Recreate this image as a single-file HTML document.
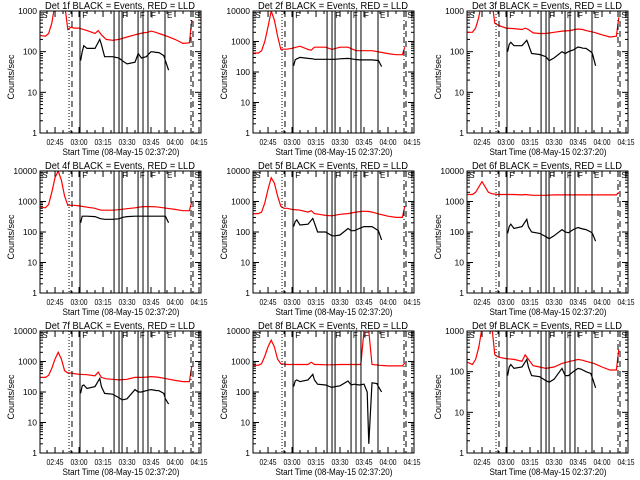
<!DOCTYPE html>
<html><head><meta charset="utf-8"><style>
html,body{margin:0;padding:0;background:#fff;}
svg{display:block;font-family:"Liberation Sans",sans-serif;}
</style></head><body>
<svg id="chart" width="640" height="480" viewBox="0 0 640 480" xmlns="http://www.w3.org/2000/svg"></svg>
<script>
const detNames = ["1f","2f","3f","4f","5f","6f","7f","8f","9f"];
const yMaxDecades = [3,4,3,4,4,4,4,4,3];
const tRed = [-9,-6,-4,-2,0,2,4,6,8,10,12,15,20,25,27,29,32,36,40,45,50,55,58,60,63,65,70,75,80,84,85.5];
const tBlack = [16,17,18,20,25,28,29,31,36,40,42,45,50,52,54,57,60,62,63,65,68,69,71];
const red1 = [250,240,280,500,1500,3000,3000,1500,350,400,380,380,330,280,330,260,200,190,200,230,260,290,300,320,300,280,240,200,160,165,600];
const red2 = [420,420,500,1000,3000,10000,5000,1500,550,560,560,600,700,550,520,650,650,650,550,650,650,500,500,500,500,500,450,400,370,370,650];
const red3 = [300,300,380,700,2000,3000,3000,2000,500,450,420,380,370,350,380,350,290,280,280,300,320,330,350,360,350,330,300,260,230,240,700];
const red4 = [650,620,800,2000,6000,10000,5000,1500,750,750,750,720,650,600,550,520,520,520,540,580,620,680,680,680,670,650,600,550,500,500,1000];
const red5 = [400,400,450,900,2500,6000,4000,1500,700,600,600,550,520,450,500,400,380,350,340,380,400,450,470,480,470,450,380,330,300,300,700];
const red6 = [1700,1700,2000,3000,4500,3000,2000,1800,1750,1700,1700,1700,1700,1650,1700,1650,1600,1600,1600,1650,1650,1650,1650,1650,1650,1650,1650,1650,1650,1650,2000];
const red7 = [300,300,350,600,1200,2000,1200,500,420,420,400,380,370,340,450,300,270,260,250,260,300,300,310,320,310,300,270,240,220,220,700];
const red8 = [750,750,850,1500,3000,5000,3000,1200,850,820,800,800,800,800,950,800,800,780,780,800,800,800,800,10000,10000,800,750,720,720,720,900];
const red9 = [170,150,200,400,1200,3000,3000,1500,260,230,220,210,200,180,260,200,140,130,120,130,160,180,190,200,190,180,160,130,110,110,350];
const blk1 = [60,100,140,120,120,200,150,75,75,70,60,50,55,90,70,75,100,98,96,95,80,60,35];
const blk2 = [160,250,270,300,280,270,260,260,260,260,260,270,280,270,260,250,250,250,250,250,240,240,150];
const blk3 = [100,150,170,140,140,190,150,90,85,75,60,70,100,90,100,110,130,125,122,120,100,90,45];
const blk4 = [200,330,330,330,320,280,270,260,260,270,300,320,330,330,330,330,330,330,330,330,330,330,200];
const blk5 = [150,220,250,170,180,280,200,100,100,75,75,80,130,110,110,130,150,150,150,150,120,110,55];
const blk6 = [90,150,180,130,150,260,150,100,90,70,60,75,120,100,95,120,140,130,125,120,100,90,50];
const blk7 = [90,160,170,130,150,280,150,90,85,65,55,60,120,100,100,110,120,115,112,110,90,60,40];
const blk8 = [150,230,250,220,250,380,250,180,170,140,150,160,230,170,180,170,180,100,2,200,190,150,100];
const blk9 = [80,130,150,120,130,200,130,80,75,60,55,65,120,80,80,100,120,115,110,100,90,70,40];
const redSeries = [red1,red2,red3,red4,red5,red6,red7,red8,red9];
const blackSeries = [blk1,blk2,blk3,blk4,blk5,blk6,blk7,blk8,blk9];
const xTickMinutes = [0,15,30,45,60,75,90];
const xTickLabels = ["02:45","03:00","03:15","03:30","03:45","04:00","04:15"];
const markerTimes = [8.75,10.6,15.6,36.9,40,41.9,51.9,55,58.1,68.75,85,86.25];
const markerStyles = ["dot","dash","solid","solid","solid","solid","solid","solid","solid","solid","dashdot","dash"];
const flagLetters = ["S","F","F","F","F","E","S"];
const flagTimes = [-8,17,42,53,60,70,87];

const NS="http://www.w3.org/2000/svg";
const svg=document.getElementById('chart');
function mk(tag,attrs,parent){const e=document.createElementNS(NS,tag);for(const k in attrs)e.setAttribute(k,attrs[k]);(parent||svg).appendChild(e);return e;}
const PL=40,PR=201,PT=11,PB=133;
const TMIN=-9.4,TMAX=91.25;
function xs(t){return PL+(t-TMIN)/(TMAX-TMIN)*(PR-PL);}

for(let p=0;p<9;p++){
  const ox=Math.round((p%3)*213.33), oy=Math.floor(p/3)*160;
  const g=mk('g',{transform:`translate(${ox},${oy})`});
  
  
  const dec=yMaxDecades[p];
  const ys=v=>PB-(Math.log10(Math.max(v,0.5)))/dec*(PB-PT);
  const cid='clip'+p;
  const cp=mk('clipPath',{id:cid},g);mk('rect',{x:PL,y:PT,width:PR-PL,height:PB-PT},cp);
  const ti=mk('text',{x:120,y:9,'text-anchor':'middle','font-size':10,textLength:150,lengthAdjust:'spacingAndGlyphs'},g);
  ti.textContent='Det '+detNames[p]+' BLACK = Events, RED = LLD';
  
  
  for(let d=0;d<=dec;d++){
    const y=ys(Math.pow(10,d));
    mk('line',{x1:PL,x2:PL+6,y1:y,y2:y,stroke:'#000'},g);
    mk('line',{x1:PR-6,x2:PR,y1:y,y2:y,stroke:'#000'},g);
    const lb=mk('text',{x:37,y:y+3,'text-anchor':'end','font-size':8.5},g);
    lb.textContent=String(Math.pow(10,d));
    
    
    if(d<dec)for(let m=2;m<10;m++){const yy=ys(m*Math.pow(10,d));
      mk('line',{x1:PL,x2:PL+3,y1:yy,y2:yy,stroke:'#000'},g);
      mk('line',{x1:PR-3,x2:PR,y1:yy,y2:yy,stroke:'#000'},g);}
  }
  for(let t=-5;t<=90;t+=5){const x=xs(t);const L=(t%15===0)?6:3;
    mk('line',{x1:x,x2:x,y1:PB,y2:PB-L,stroke:'#000'},g);
    mk('line',{x1:x,x2:x,y1:PT,y2:PT+L,stroke:'#000'},g);}
  xTickMinutes.forEach((t,i)=>{const lb=mk('text',{x:xs(t),y:145,'text-anchor':'middle','font-size':8,textLength:17,lengthAdjust:'spacingAndGlyphs'},g);
    lb.textContent=xTickLabels[i];
    
    });
  const xt=mk('text',{x:121,y:155,'text-anchor':'middle','font-size':9.5,textLength:117,lengthAdjust:'spacingAndGlyphs'},g);
  xt.textContent='Start Time (08-May-15 02:37:20)';
  
  
  const yt=mk('text',{x:0,y:0,'text-anchor':'middle','font-size':9,transform:'translate(14,77) rotate(-90)'},g);
  yt.textContent='Counts/sec';
  
  
  const rp=redSeries[p].map((v,i)=>xs(tRed[i]).toFixed(1)+','+ys(v).toFixed(1)).join(' ');
  const rl=mk('polyline',{points:rp,fill:'none',stroke:'#ff0000','stroke-width':1.2,'clip-path':`url(#${cid})`},g);
  
  
  const bp=blackSeries[p].map((v,i)=>xs(tBlack[i]).toFixed(1)+','+ys(v).toFixed(1)).join(' ');
  const bl=mk('polyline',{points:bp,fill:'none',stroke:'#000','stroke-width':1.2,'clip-path':`url(#${cid})`},g);
  
  
  markerTimes.forEach((t,i)=>{const x=xs(t);const st=markerStyles[i];
    const a={x1:x,x2:x,y1:PT,y2:PB,stroke:'#000','stroke-width':1};
    if(st==='dot')a['stroke-dasharray']='1,2';
    if(st==='dash')a['stroke-dasharray']='6,4';
    if(st==='dashdot')a['stroke-dasharray']='6,3,1,3';
    const ln=mk('line',a,g);
    
    });
  flagLetters.forEach((s,i)=>{const f=mk('text',{x:xs(flagTimes[i]),y:PT+7,'font-size':8},g);
    f.textContent=s;
    
    });
  mk('rect',{x:PL,y:PT,width:PR-PL,height:PB-PT,fill:'none',stroke:'#000','stroke-width':1},g);
}
</script>
</body></html>
